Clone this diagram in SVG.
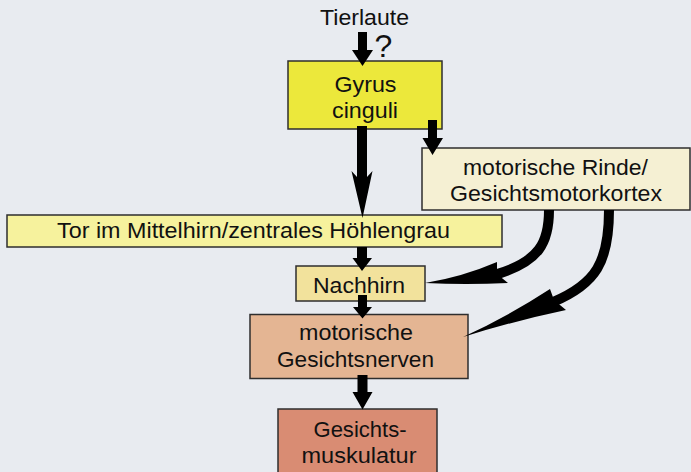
<svg xmlns="http://www.w3.org/2000/svg" width="691" height="472" viewBox="0 0 691 472">
<style>
.box{stroke:#2e2e2e;stroke-width:1.5}
text{font-family:"Liberation Sans",Arial,sans-serif;font-size:22px;fill:#111;text-anchor:middle}
.arr{fill:#000}
.curve{fill:none;stroke:#000;stroke-width:10}
</style>
<rect x="0" y="0" width="691" height="472" fill="#e8ebf0"/>
<text x="364.5" y="25" textLength="89" lengthAdjust="spacingAndGlyphs">Tierlaute</text>
<text x="383.5" y="57" style="font-size:32px">?</text>
<g id="gyrus">
<rect class="box" x="288" y="61" width="154" height="68" fill="#ece83b"/>
<text x="365.5" y="92" textLength="62" lengthAdjust="spacingAndGlyphs">Gyrus</text>
<text x="365" y="118" textLength="66" lengthAdjust="spacingAndGlyphs">cinguli</text>
</g>
<g id="rinde">
<rect class="box" x="422" y="148" width="268" height="62" fill="#f5f0d3"/>
<text x="555.5" y="175" textLength="185" lengthAdjust="spacingAndGlyphs">motorische Rinde/</text>
<text x="556" y="200.5" textLength="212" lengthAdjust="spacingAndGlyphs">Gesichtsmotorkortex</text>
</g>
<g id="tor">
<rect class="box" x="7" y="215" width="495" height="32" fill="#f6f29d"/>
<text x="253.5" y="238" textLength="393" lengthAdjust="spacingAndGlyphs">Tor im Mittelhirn/zentrales Höhlengrau</text>
</g>
<g id="nachhirn">
<rect class="box" x="296" y="266" width="129" height="35" fill="#f2e29c"/>
<text x="359" y="292.5" textLength="92" lengthAdjust="spacingAndGlyphs">Nachhirn</text>
</g>
<g id="nerven">
<rect class="box" x="250" y="314.5" width="218" height="64" fill="#e4b593"/>
<text x="356" y="340" textLength="114" lengthAdjust="spacingAndGlyphs">motorische</text>
<text x="355.5" y="366.5" textLength="157" lengthAdjust="spacingAndGlyphs">Gesichtsnerven</text>
</g>
<g id="muskulatur">
<rect class="box" x="278" y="409" width="159" height="70" fill="#d98c73"/>
<text x="360" y="436.5" textLength="93" lengthAdjust="spacingAndGlyphs">Gesichts-</text>
<text x="359" y="462.5" textLength="115" lengthAdjust="spacingAndGlyphs">muskulatur</text>
</g>
<g id="connectors">
<path class="arr" d="M358,32 H367 V50 H373 L362.5,66 L352,50 H358 Z"/>
<path class="arr" d="M357,126 H367 V177 L372.5,171 L362.5,218 L351.5,171 L357,177 Z"/>
<path class="arr" d="M428,120 H437 V138 H443 L432.5,155 L422.5,138 H428 Z"/>
<path class="arr" d="M357,247 H367 V258 H372 L362,271 L352.5,258 H357 Z"/>
<path class="arr" d="M358,295 H367 V307 H372 L362.5,318.5 L353,307 H358 Z"/>
<path class="arr" d="M357.5,375 H367.5 V392 H372.5 L362.5,409.5 L352.5,392 H357.5 Z"/>
<path class="curve" d="M549,210 C549,242 540,262 494,275"/>
<path class="arr" d="M497,262 Q462,277 425,283 Q466,285 508,283 L497,274 Z"/>
<path class="curve" d="M609,210 C609,262 596,284 553,302"/>
<path class="arr" d="M550,289 Q507,317 463,337 Q514,321 566,310 L554,300 Z"/>
</g>
</svg>
